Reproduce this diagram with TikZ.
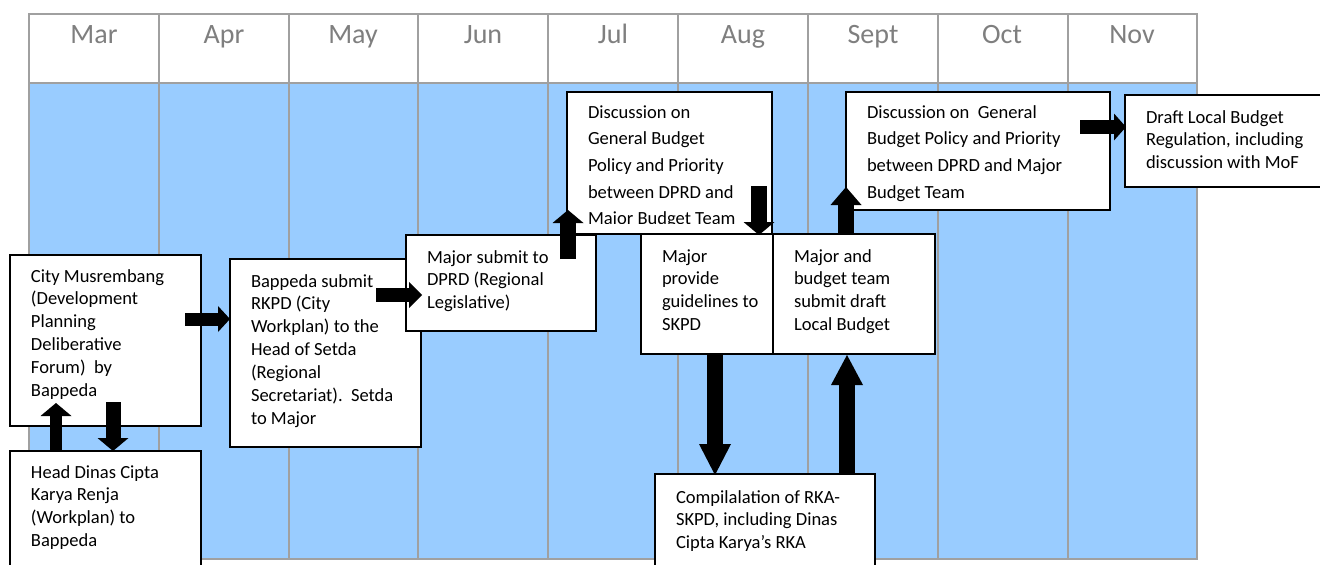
\documentclass[tikz,border=0pt]{standalone}
\usepackage{fontspec}
\setmainfont{Carlito}
\usetikzlibrary{arrows.meta,calc}
\newdimen\pxu \pxu=0.75pt
\newcommand\boxtext[4]{\parbox[b][#2\pxu][t]{#1\pxu}{\raggedright\rule{0pt}{#3\pxu}#4}}
\definecolor{gridblue}{RGB}{153,204,255}
\definecolor{gridgray}{RGB}{160,160,160}
\definecolor{monthgray}{RGB}{127,127,127}
\tikzset{
 box/.style={draw=black, fill=white, line width=1.1pt, inner xsep=15.75pt, inner ysep=0pt, outer sep=0pt, anchor=north west, font=\fontsize{13.9}{17.2}\selectfont},
 widebox/.style={box, font=\fontsize{13.9}{20}\selectfont},
 month/.style={anchor=base, text=monthgray, font=\fontsize{21}{25}\selectfont},
 gridline/.style={draw=gridgray, line width=1pt},
 barrow/.style={line width=12pt, -{Triangle[width=23.25pt,length=9.75pt,line width=0pt]}},
}
\begin{document}
\begin{tikzpicture}[x=0.75pt, y=-0.75pt]
\useasboundingbox (0,0) rectangle (1320,564);
\clip (0,0) rectangle (1320,564);
\fill[white] (0,0) rectangle (1320,564);
% grid
\fill[gridblue] (29,83) rectangle (1197,559);
\draw[gridline] (29,14) rectangle (1197,559);
\draw[gridline] (29,83) -- (1197,83);
\foreach \x in {159,289,418,548,678,808,938,1068}{
  \draw[gridline] (\x,14) -- (\x,559);
}
% month labels
\node[month] (mar) at (94,43) {Mar};
\node[month] (apr) at (224,43) {Apr};
\node[month] (may) at (353,43) {May};
\node[month] (jun) at (483,43) {Jun};
\node[month] (jul) at (613,43) {Jul};
\node[month] (aug) at (743,43) {Aug};
\node[month] (sep) at (873,43) {Sept};
\node[month] (oct) at (1002,43) {Oct};
\node[month] (nov) at (1132,43) {Nov};
% boxes
\node[box] (city) at (10,255) {\boxtext{149}{171}{27}{City Musrembang\\(Development\\Planning\\Deliberative\\Forum)~~by\\Bappeda}};
\node[box] (head) at (10,451) {\boxtext{149}{120}{27}{Head Dinas Cipta\\Karya Renja\\(Workplan) to\\Bappeda}};
\node[box] (bappeda) at (230,259) {\boxtext{149}{188}{28}{Bappeda submit\\RKPD (City\\Workplan) to the\\Head of Setda\\(Regional\\Secretariat).~~Setda\\to Major}};
\node[box] (major) at (406,235) {\boxtext{148}{96}{28}{Major submit to\\DPRD (Regional\\Legislative)}};
\node[box, inner sep=0pt, minimum width=153.75pt, minimum height=106.5pt] (discJul) at (567,92) {};
\begin{scope}
\clip (567,92) rectangle (772,223.5);
\node[widebox, draw=none, fill=none] (discJulText) at (discJul.north west) {\boxtext{163}{142}{26}{Discussion on\\General Budget\\Policy and Priority\\between DPRD and\\Major Budget Team}};
\end{scope}
\node[box] (provide) at (641,234) {\boxtext{90}{120}{28}{Major\\provide\\\mbox{guidelines to}\\SKPD}};
\node[box] (mbudget) at (773,234) {\boxtext{120}{120}{28}{Major and\\budget team\\submit draft\\Local Budget}};
\node[widebox] (discSep) at (846,92) {\boxtext{222}{118}{26}{Discussion on~~General\\Budget Policy and Priority\\between DPRD and Major\\Budget Team}};
\node[box] (draft) at (1125,95) {\boxtext{168}{92}{28}{Draft Local Budget\\Regulation, including\\discussion with MoF}};
\node[box] (compil) at (655,474) {\boxtext{178}{100}{29}{Compilalation of RKA-\\SKPD, including Dinas\\Cipta Karya’s RKA}};
% block arrows
\draw[barrow, line width=9.75pt, -{Triangle[width=19.5pt,length=9pt,line width=0pt]}]
  ($(city.north east)+(-16,64)$) -- ($(bappeda.north west)+(0,60)$);
\draw[barrow, line width=10.5pt, -{Triangle[width=19.5pt,length=9.75pt,line width=0pt]}]
  ($(bappeda.north east)+(-45,36)$) -- ($(major.north west)+(16,60)$);
\draw[barrow, line width=9.5pt]
  ($(head.north west)+(46,0)$) -- ($(city.south west)+(46,-23)$);
\draw[barrow, line width=11.25pt]
  ($(city.south west)+(103,-24)$) -- ($(head.north west)+(103,0)$);
\draw[barrow]
  ($(major.north east)+(-28,24)$) -- ($(discJul.south west)+(1,-24)$);
\draw[barrow]
  ($(discJul.north east)+(-13,94)$) -- ($(provide.north east)+(-14,1)$);
\draw[barrow, -{Triangle[width=23.25pt,length=13.5pt,line width=0pt]}]
  ($(mbudget.north west)+(73,0)$) -- ($(discSep.south west)+(0,-23)$);
\draw[barrow, line width=10.5pt, -{Triangle[width=20.25pt,length=9pt,line width=0pt]}]
  ($(discSep.north east)+(-30,35)$) -- ($(draft.north west)+(1,32)$);
\draw[barrow, -{Triangle[width=24pt,length=23.25pt,line width=0pt]}]
  ($(provide.south west)+(74,0)$) -- ($(compil.north west)+(60,1)$);
\draw[barrow, -{Triangle[width=24pt,length=22.5pt,line width=0pt]}]
  ($(compil.north east)+(-28,0)$) -- ($(mbudget.south west)+(74,1)$);
\end{tikzpicture}
\end{document}
